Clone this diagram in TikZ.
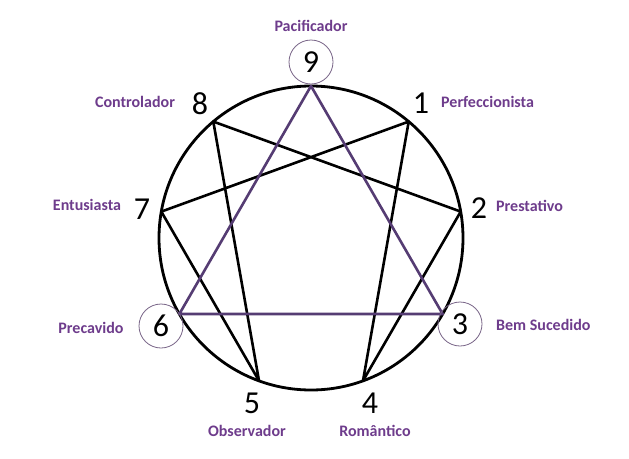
\documentclass[tikz,border=0pt]{standalone}
\usepackage{fontspec}
\setmainfont{Carlito}
\usetikzlibrary{calc}
\definecolor{lblpurple}{RGB}{110,60,140}
\definecolor{tripurple}{RGB}{85,60,115}
\definecolor{ringgray}{RGB}{120,100,135}
\begin{document}
\begin{tikzpicture}[x=1pt,y=-1pt,
  digit/.style={inner sep=0pt,font=\fontsize{32}{34}\selectfont},
  ring/.style={circle,draw=ringgray,line width=0.8pt,minimum size=44pt,inner sep=0pt,font=\fontsize{32}{34}\selectfont},
  lbl/.style={inner sep=0pt,text=lblpurple,font=\fontsize{16}{18}\selectfont\bfseries},
  hexline/.style={line width=2.6pt,black,line cap=round,line join=round},
  triline/.style={line width=2.6pt,tripurple,line cap=round,line join=round}]
\useasboundingbox (0,0) rectangle (629,458);
\fill[white] (0,0) rectangle (629,458);
\coordinate (c) at (311,238);
\draw[line width=2.8pt] (c) circle [radius=152];
\foreach \k in {0,...,8} {
  \pgfmathsetmacro{\ang}{90-40*\k}
  \coordinate (p\k) at ($(c)+({152*cos(\ang)},{-152*sin(\ang)})$);
}
\coordinate (p9) at (p0);
% hexad 1-4-2-8-5-7-1
\draw[hexline] (p1) -- (p4) -- (p2) -- (p8) -- (p5) -- (p7) -- cycle;
% triangle 9-3-6
\draw[triline] (p9) -- (p3) -- (p6) -- cycle;
% digits
\node[ring] (d9) at (311,62) {9};
\node[ring] (d3) at (460,324) {3};
\node[ring] (d6) at (161,326) {6};
\node[digit] (d1) at (421,103) {1};
\node[digit] (d8) at (200,104) {8};
\node[digit] (d2) at (479,208) {2};
\node[digit] (d7) at (142,209) {7};
\node[digit] (d5) at (252,403) {5};
\node[digit] (d4) at (370,403) {4};
% labels
\node[lbl] (l9) at (311,26) {Pacificador};
\node[lbl,anchor=west] (l1) at (441,102) {Perfeccionista};
\node[lbl] (l8) at (135,102) {Controlador};
\node[lbl,anchor=west] (l2) at (496,206) {Prestativo};
\node[lbl] (l7) at (87,205) {Entusiasta};
\node[lbl,anchor=west] (l3) at (496,325) {Bem Sucedido};
\node[lbl] (l6) at (91,328) {Precavido};
\node[lbl] (l5) at (247,431) {Observador};
\node[lbl] (l4) at (375,431) {Romântico};
\end{tikzpicture}
\end{document}
